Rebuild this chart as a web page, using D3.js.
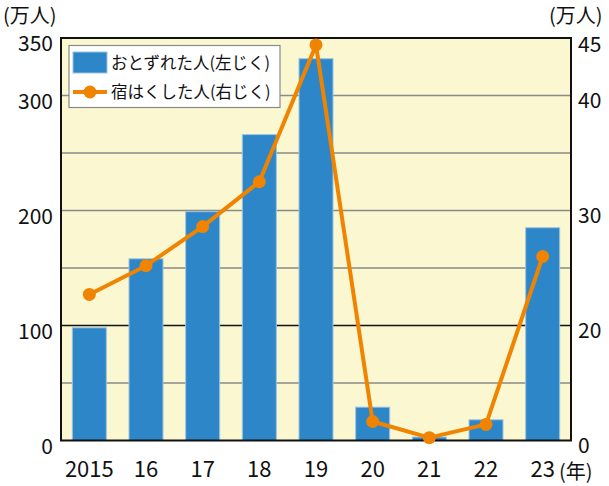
<!DOCTYPE html>
<html>
<head>
<meta charset="utf-8">
<script src="https://cdn.jsdelivr.net/npm/d3@7"></script>
<style>
  body { margin: 0; background: #fff; }
  text { font-family: "Noto Sans CJK JP", "Noto Sans", sans-serif; fill: #111; }
</style>
</head>
<body>
<svg id="chart"></svg>
<script>
// data
const years = ["2015", "16", "17", "18", "19", "20", "21", "22", "23"];
const visitors = [98, 158, 199, 266, 332, 29, 3, 18, 185];      // left axis, 万人
const stays = [22.7, 25.2, 28.6, 32.5, 44.4, 3.3, 0.5, 2.8, 26.0]; // right axis, 万人
const leftTicks = [0, 100, 200, 300, 350];
const rightTicks = [0, 20, 30, 40, 45];
const gridValues = [50, 100, 150, 200, 250, 300];

const W = 609, H = 486;
const plot = { left: 61, right: 571, top: 38, bottom: 440.5 };

const svg = d3.select("#chart")
    .attr("width", W)
    .attr("height", H);

const x = d3.scaleBand()
    .domain(years)
    .range([plot.left, plot.right])
    .paddingInner(0.4)
    .paddingOuter(0.2);

const yLeft = d3.scaleLinear()
    .domain([0, 350])
    .range([plot.bottom, plot.top]);

// right axis is squeezed below 20 (lines up 20 with 100 on the left)
const yRight = d3.scaleLinear()
    .domain([0, 20, 45])
    .range([plot.bottom, yLeft(100), plot.top]);

// background
svg.append("rect")
    .attr("x", plot.left).attr("y", plot.top)
    .attr("width", plot.right - plot.left)
    .attr("height", plot.bottom - plot.top)
    .attr("fill", "#faf7d1");

// grid lines
svg.append("g")
    .selectAll("line")
    .data(gridValues)
    .join("line")
    .attr("x1", plot.left).attr("x2", plot.right)
    .attr("y1", d => yLeft(d)).attr("y2", d => yLeft(d))
    .attr("stroke", d => d === 100 ? "#111" : "#8a8a86")
    .attr("stroke-width", d => d === 100 ? 1.3 : 1.6);

// bars
svg.append("g")
    .selectAll("rect")
    .data(visitors)
    .join("rect")
    .attr("x", (d, i) => x(years[i]))
    .attr("y", d => yLeft(d))
    .attr("width", x.bandwidth())
    .attr("height", d => plot.bottom - yLeft(d))
    .attr("fill", "#2d86c7")
    .attr("stroke", "#9cc3e2")
    .attr("stroke-width", 1);

// frame
svg.append("rect")
    .attr("x", plot.left).attr("y", plot.top)
    .attr("width", plot.right - plot.left)
    .attr("height", plot.bottom - plot.top)
    .attr("fill", "none")
    .attr("stroke", "#111")
    .attr("stroke-width", 2);

// line + markers
const cx = (d, i) => x(years[i]) + x.bandwidth() / 2;
const line = d3.line()
    .x(cx)
    .y(d => yRight(d));

svg.append("path")
    .datum(stays)
    .attr("d", line)
    .attr("fill", "none")
    .attr("stroke", "#f08300")
    .attr("stroke-width", 4)
    .attr("stroke-linejoin", "round");

svg.append("g")
    .selectAll("circle")
    .data(stays)
    .join("circle")
    .attr("cx", cx)
    .attr("cy", d => yRight(d))
    .attr("r", 6.5)
    .attr("fill", "#f08300");

// left tick labels
svg.append("g")
    .selectAll("text")
    .data(leftTicks)
    .join("text")
    .attr("x", 53)
    .attr("y", d => yLeft(d) + 13)
    .attr("text-anchor", "end")
    .attr("font-size", 21)
    .text(d => d);

// right tick labels
svg.append("g")
    .selectAll("text")
    .data(rightTicks)
    .join("text")
    .attr("x", 578)
    .attr("y", d => yRight(d) + (d === 45 ? 14 : 12))
    .attr("font-size", 21)
    .text(d => d);

// x labels
svg.append("g")
    .selectAll("text")
    .data(years)
    .join("text")
    .attr("x", d => x(d) + x.bandwidth() / 2)
    .attr("y", 477)
    .attr("text-anchor", "middle")
    .attr("font-size", 22)
    .text(d => d);

svg.append("text")
    .attr("x", 559).attr("y", 479)
    .attr("font-size", 20)
    .text("(年)");

// unit labels
svg.append("text")
    .attr("x", 3).attr("y", 23)
    .attr("font-size", 20)
    .text("(万人)");

svg.append("text")
    .attr("x", 549).attr("y", 23)
    .attr("font-size", 20)
    .text("(万人)");

// legend
const legend = svg.append("g");
legend.append("rect")
    .attr("x", 69).attr("y", 45.5)
    .attr("width", 211).attr("height", 62)
    .attr("fill", "#fff")
    .attr("stroke", "#8a8a86")
    .attr("stroke-width", 1.2);

legend.append("rect")
    .attr("x", 73).attr("y", 52)
    .attr("width", 34).attr("height", 21)
    .attr("fill", "#2d86c7")
    .attr("stroke", "#9cc3e2");

legend.append("line")
    .attr("x1", 73).attr("x2", 107)
    .attr("y1", 92).attr("y2", 92)
    .attr("stroke", "#f08300")
    .attr("stroke-width", 4);

legend.append("circle")
    .attr("cx", 90).attr("cy", 92)
    .attr("r", 6.5)
    .attr("fill", "#f08300");

legend.append("text")
    .attr("x", 111).attr("y", 69)
    .attr("font-size", 16.5)
    .text("おとずれた人(左じく)");

legend.append("text")
    .attr("x", 111).attr("y", 98)
    .attr("font-size", 16.5)
    .text("宿はくした人(右じく)");
</script>
</body>
</html>
